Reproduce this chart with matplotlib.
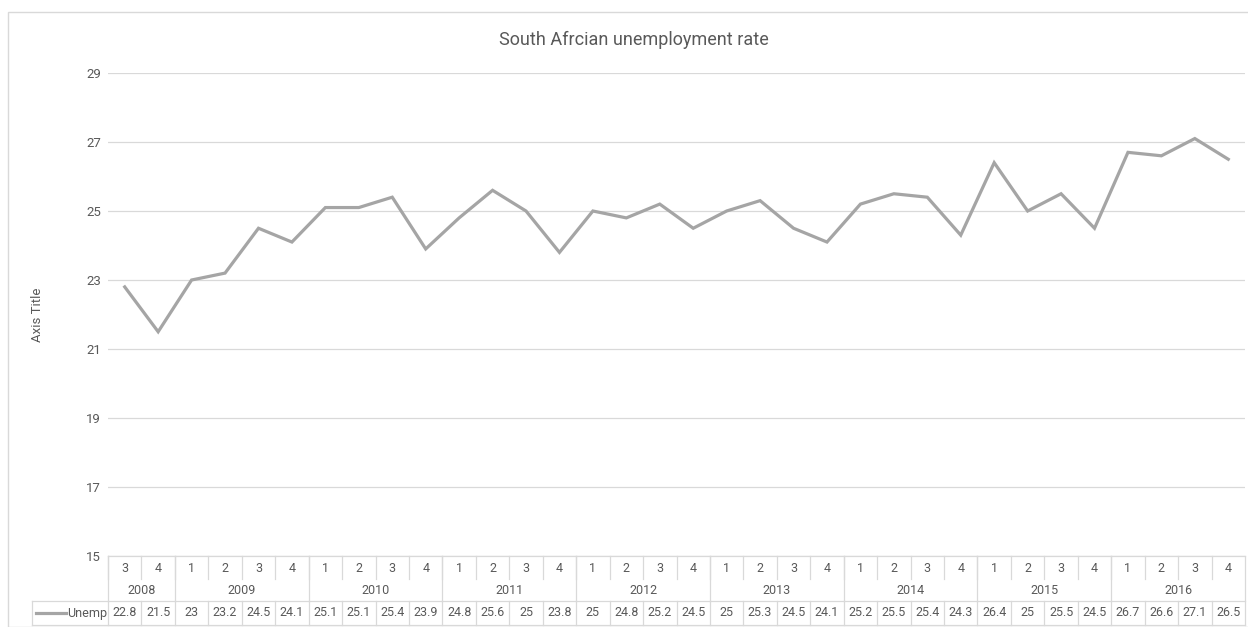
import matplotlib.pyplot as plt
from matplotlib.lines import Line2D
from matplotlib.patches import Rectangle
import matplotlib.transforms as mtransforms

years = ["2008", "2009", "2010", "2011", "2012", "2013", "2014", "2015", "2016"]
quarters = [3, 4,
            1, 2, 3, 4,
            1, 2, 3, 4,
            1, 2, 3, 4,
            1, 2, 3, 4,
            1, 2, 3, 4,
            1, 2, 3, 4,
            1, 2, 3, 4,
            1, 2, 3, 4]
quarters_per_year = [2, 4, 4, 4, 4, 4, 4, 4, 4]
unemp = [22.8, 21.5,
         23, 23.2, 24.5, 24.1,
         25.1, 25.1, 25.4, 23.9,
         24.8, 25.6, 25, 23.8,
         25, 24.8, 25.2, 24.5,
         25, 25.3, 24.5, 24.1,
         25.2, 25.5, 25.4, 24.3,
         26.4, 25, 25.5, 24.5,
         26.7, 26.6, 27.1, 26.5]
unemp_labels = ["22.8", "21.5", "23", "23.2", "24.5", "24.1", "25.1", "25.1",
                "25.4", "23.9", "24.8", "25.6", "25", "23.8", "25", "24.8",
                "25.2", "24.5", "25", "25.3", "24.5", "24.1", "25.2", "25.5",
                "25.4", "24.3", "26.4", "25", "25.5", "24.5", "26.7", "26.6",
                "27.1", "26.5"]

plt.rcParams["font.family"] = ["Roboto", "DejaVu Sans"]

W, H = 1248, 627
txt = "#595959"
grid = "#d9d9d9"
fs = 9

fig = plt.figure(figsize=(W / 100, H / 100), dpi=100)

# plot area in pixels
left, right, top, bottom = 108, 1245, 73, 556
ax = fig.add_axes([left / W, 1 - bottom / H, (right - left) / W, (bottom - top) / H])

# chart border
fig.add_artist(Rectangle((8 / W, 0), 1.2, 1 - 12 / H, transform=fig.transFigure,
                         fill=False, edgecolor="#d9d9d9", linewidth=1))

n = len(unemp)
x = list(range(n))
ax.plot(x, unemp, color="#a5a5a5", linewidth=2.3, solid_joinstyle="miter")

ax.set_xlim(-0.5, n - 0.5)
ax.set_ylim(15, 29)
ax.set_yticks([15, 17, 19, 21, 23, 25, 27, 29])
ax.set_xticks([])
ax.tick_params(axis="y", length=0, colors=txt, labelsize=fs + 0.5, pad=5)
ax.grid(axis="y", color=grid, linewidth=0.9)
ax.set_axisbelow(True)
for s in ax.spines.values():
    s.set_visible(False)

ax.set_ylabel("Axis Title", color=txt, fontsize=fs + 0.5)
fig.text(634 / W, 1 - 40 / H, "South Afrcian unemployment rate", color=txt,
         fontsize=13, ha="center", va="center")

# data table under the axis
ph = bottom - top


def ay(py):
    return (bottom - py) / ph


def axx(px):
    return (px - left) / (right - left)


ax.yaxis.set_label_coords(axx(44), 0.5)

tr = mtransforms.blended_transform_factory(ax.transData, ax.transAxes)


def hline(x0, x1, py, transform):
    ax.add_line(Line2D([x0, x1], [ay(py), ay(py)], color=grid, linewidth=0.9,
                       transform=transform, clip_on=False))


def vline(xv, py0, py1, transform):
    ax.add_line(Line2D([xv, xv], [ay(py0), ay(py1)], color=grid, linewidth=0.9,
                       transform=transform, clip_on=False))


row1, row2, row3, row4 = 556, 579, 601, 625

hline(-0.5, n - 0.5, row1, tr)
hline(axx(32), 1, row3, ax.transAxes)
hline(axx(32), 1, row4, ax.transAxes)
vline(axx(32), row3, row4, ax.transAxes)

# quarter row
for i, q in enumerate(quarters):
    ax.text(i, ay((row1 + row2) / 2 + 1), str(q), transform=tr, ha="center",
            va="center", color=txt, fontsize=fs, clip_on=False)
    vline(i - 0.5, row1, row2, tr)
vline(n - 0.5, row1, row4, tr)

# year row
start = 0
for yr, cnt in zip(years, quarters_per_year):
    vline(start - 0.5, row1, row3, tr)
    ax.text(start + (cnt - 1) / 2, ay((row2 + row3) / 2), yr, transform=tr,
            ha="center", va="center", color=txt, fontsize=fs, clip_on=False)
    start += cnt

# values row
for i, lab in enumerate(unemp_labels):
    vline(i - 0.5, row3, row4, tr)
    ax.text(i, ay((row3 + row4) / 2), lab, transform=tr, ha="center",
            va="center", color=txt, fontsize=fs, clip_on=False)

ax.add_line(Line2D([axx(36), axx(66)], [ay(613), ay(613)], color="#a5a5a5",
                   linewidth=2.3, transform=ax.transAxes, clip_on=False))
ax.text(axx(67), ay(613), "Unemp", transform=ax.transAxes, ha="left",
        va="center", color=txt, fontsize=fs, clip_on=False)

fig.savefig("out.png", dpi=100)
